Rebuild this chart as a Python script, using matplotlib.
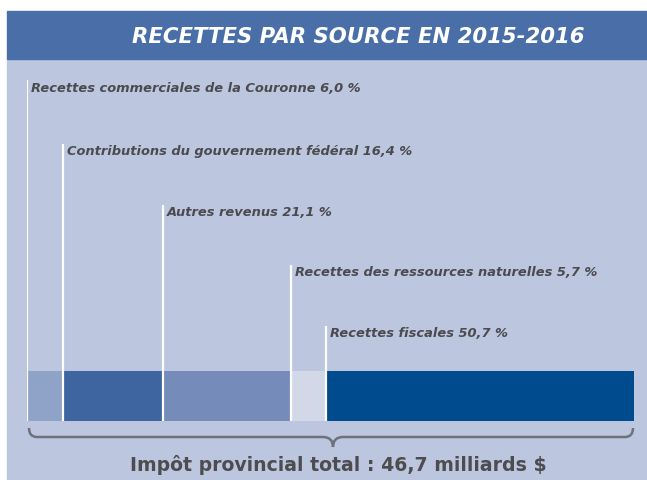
import numpy as np
import matplotlib
matplotlib.use("Agg")
import matplotlib.pyplot as plt
from matplotlib.patches import Rectangle, PathPatch
from matplotlib.path import Path

# données
sources = ["Recettes commerciales de la Couronne", "Contributions du gouvernement fédéral",
           "Autres revenus", "Recettes des ressources naturelles", "Recettes fiscales"]
parts = [6.0, 16.4, 21.1, 5.7, 50.7]
couleurs = ["#8fa2c8", "#3e65a0", "#758bba", "#d3d8e8", "#004a8e"]
titre = "RECETTES PAR SOURCE EN 2015-2016"
total = "Impôt provincial total : 46,7 milliards $"

W, H = 647, 481
fig = plt.figure(figsize=(W / 100, H / 100), dpi=100)

# fond du panneau et bandeau du titre (en pixels)
fig.patches.append(Rectangle((7 / W, 0), 1, 1 - 60 / H, transform=fig.transFigure,
                             color="#bcc6df", zorder=-5))
fig.patches.append(Rectangle((7 / W, 1 - 60 / H), 1, 48 / H, transform=fig.transFigure,
                             color="#4a6fa8", zorder=-5))
fig.text(358 / W, 1 - 37 / H, titre, color="white", fontsize=15.3, fontweight="bold",
         style="italic", ha="center", va="center", family="DejaVu Sans")

# axe : x en %, y en pixels
x0, x1 = 27, 634
ax = fig.add_axes([x0 / W, 0, (x1 - x0) / W, 1])
ax.set_xlim(0, sum(parts))
ax.set_ylim(H, 0)
ax.axis("off")

gauches = np.concatenate([[0], np.cumsum(parts)[:-1]])
ax.barh(397, parts, left=gauches, height=50, color=couleurs, zorder=2)

label_y = [88, 152, 213, 273, 334]
for nom, p, g, yl in zip(sources, parts, gauches, label_y):
    ax.plot([g, g], [422, yl - 7], color="white", lw=1.6, zorder=3,
            solid_capstyle="butt")
    ax.annotate(f"{nom} {p:.1f} %".replace(".", ","), (g, yl), xytext=(4, 0),
                textcoords="offset pixels", va="center", ha="left",
                fontsize=9.4, fontweight="bold", style="italic",
                color="#4b4b4f", family="DejaVu Sans")

# accolade
fig_ax = fig.add_axes([0, 0, 1, 1])
fig_ax.set_xlim(0, W)
fig_ax.set_ylim(H, 0)
fig_ax.axis("off")
xa, xb, xm = 29, 633, 333
ya, yb, yt = 429, 438, 448
verts = [(xa, ya), (xa, yb), (xa + 8, yb), (xm - 10, yb), (xm, yb), (xm, yt),
         (xm, yb), (xm + 10, yb), (xb - 8, yb), (xb, yb), (xb, ya)]
codes = [Path.MOVETO, Path.CURVE3, Path.CURVE3, Path.LINETO, Path.CURVE3, Path.CURVE3,
         Path.CURVE3, Path.CURVE3, Path.LINETO, Path.CURVE3, Path.CURVE3]
fig_ax.add_patch(PathPatch(Path(verts, codes), fill=False, ec="#6c717b", lw=1.8))

fig_ax.text(338, 465, total, ha="center", va="center", fontsize=13.6,
            fontweight="bold", color="#4d4d4f", family="DejaVu Sans")

fig.savefig("out.png", dpi=100)
